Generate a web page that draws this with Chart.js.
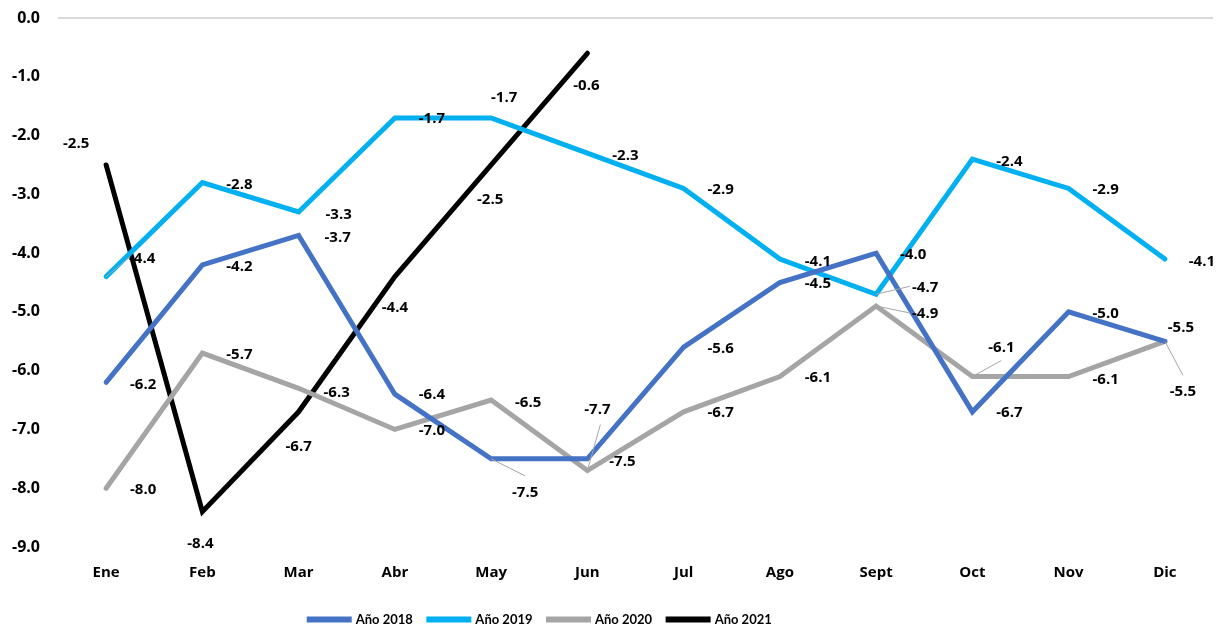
<!DOCTYPE html>
<html lang="es">
  <head>
    <meta charset="UTF-8" />
    <title>Variación mensual 2018-2021</title>
    <script src="https://cdn.jsdelivr.net/npm/chart.js"></script>
    <style>
      html, body { margin: 0; padding: 0; background: #fff; }
      #chartContainer { width: 1224px; height: 627px; position: relative; }
    </style>
  </head>
  <body>
    <div id="chartContainer">
      <canvas id="lineChart"></canvas>
    </div>

    <script>
      // Datos
      const months = ["Ene", "Feb", "Mar", "Abr", "May", "Jun", "Jul", "Ago", "Sept", "Oct", "Nov", "Dic"];
      const serie2018 = [-6.2, -4.2, -3.7, -6.4, -7.5, -7.5, -5.6, -4.5, -4.0, -6.7, -5.0, -5.5];
      const serie2019 = [-4.4, -2.8, -3.3, -1.7, -1.7, -2.3, -2.9, -4.1, -4.7, -2.4, -2.9, -4.1];
      const serie2020 = [-8.0, -5.7, -6.3, -7.0, -6.5, -7.7, -6.7, -6.1, -4.9, -6.1, -6.1, -5.5];
      const serie2021 = [-2.5, -8.4, -6.7, -4.4, -2.5, -0.6];
      const yTicks = [0, -1, -2, -3, -4, -5, -6, -7, -8, -9];

      // Posición de las etiquetas (px respecto al punto), con línea guía opcional
      const R = { dx: 37, dy: 2 };
      const labelPos = [
        [R, R, { dx: 39, dy: 2 }, { dx: 37, dy: 1 }, { dx: 34, dy: 34, lx: 34, ly: 17 }, { dx: 35, dy: 3 },
         R, { dx: 38, dy: 1 }, R, { dx: 37, dy: 1 }, R, { dx: 16, dy: -14 }],
        [{ dx: 36, dy: -18, lx: 24, ly: -20 }, R, { dx: 40, dy: 3 }, { dx: 37, dy: 1 }, { dx: 13, dy: -20 }, { dx: 38, dy: 3 },
         { dx: 37, dy: 1 }, { dx: 38, dy: 3 }, { dx: 49, dy: -7, lx: 34, ly: -8 }, { dx: 37, dy: 3 }, { dx: 37, dy: 1 }, { dx: 37, dy: 3 }],
        [R, R, { dx: 38, dy: 4 }, { dx: 37, dy: 1 }, { dx: 37, dy: 3 }, { dx: 10, dy: -61, lx: 13, ly: -46 },
         { dx: 37, dy: 1 }, { dx: 38, dy: 1 }, { dx: 49, dy: 8, lx: 34, ly: 7 }, { dx: 29, dy: -29, lx: 29, ly: -16 }, { dx: 37, dy: 3 }, { dx: 18, dy: 50, lx: 18, ly: 34 }],
        [{ dx: -30, dy: -21 }, { dx: -2, dy: 32 }, { dx: 0, dy: 35 }, { dx: 0, dy: 31 }, { dx: -1, dy: 35 }, { dx: -1, dy: 32 }]
      ];

      const fontFam = "'Open Sans', Lato, sans-serif";

      // Plugin sencillo para las etiquetas de datos
      const dataLabels = {
        id: "dataLabels",
        afterDatasetsDraw(chart) {
          const ctx = chart.ctx;
          ctx.save();
          chart.data.datasets.forEach((ds, i) => {
            const meta = chart.getDatasetMeta(i);
            meta.data.forEach((pt, j) => {
              const p = labelPos[i][j];
              if (!p) return;
              if (p.lx !== undefined) {
                ctx.strokeStyle = "#a6a6a6";
                ctx.lineWidth = 1;
                ctx.beginPath();
                ctx.moveTo(pt.x, pt.y);
                ctx.lineTo(pt.x + p.lx, pt.y + p.ly);
                ctx.stroke();
              }
              ctx.fillStyle = "#000";
              ctx.font = "bold 15px " + fontFam;
              ctx.textAlign = "center";
              ctx.textBaseline = "middle";
              ctx.fillText(ds.data[j].toFixed(1), pt.x + p.dx, pt.y + p.dy);
            });
          });
          ctx.restore();
        }
      };

      // La leyenda del original no está centrada: se desplaza a la izquierda
      const legendShift = {
        id: "legendShift",
        afterLayout(chart) {
          chart.legend.left -= 66;
          chart.legend.right -= 66;
        }
      };

      const colors = ["#4472C4", "#00B0F0", "#A5A5A5", "#000000"];
      const names = ["Año 2018", "Año 2019", "Año 2020", "Año 2021"];
      const series = [serie2018, serie2019, serie2020, serie2021];

      const ctx = document.getElementById("lineChart").getContext("2d");
      new Chart(ctx, {
        type: "line",
        data: {
          labels: months,
          datasets: series.map((s, i) => ({
            label: names[i],
            data: s,
            borderColor: colors[i],
            backgroundColor: colors[i],
            borderWidth: 5,
            pointRadius: 0,
            tension: 0,
            borderJoinStyle: "miter",
            borderCapStyle: "round"
          }))
        },
        options: {
          responsive: true,
          maintainAspectRatio: false,
          animation: false,
          layout: { padding: { top: 18, right: 11, left: 0, bottom: 0 } },
          scales: {
            x: {
              offset: true,
              afterFit(scale) { scale.height = 50; },
              grid: { display: false, drawTicks: false },
              border: { display: false },
              ticks: { padding: 17, color: "#000", font: { family: fontFam, size: 15, weight: "bold" } }
            },
            y: {
              min: -9,
              max: 0,
              afterFit(scale) {
                scale.width = 58;
                scale.paddingTop = 10;
                scale.paddingBottom = 10;
              },
              afterBuildTicks(scale) { scale.ticks = yTicks.map(v => ({ value: v })); },
              grid: {
                drawTicks: false,
                color: ctx => (ctx.tick && ctx.tick.value === 0 ? "#d9d9d9" : "rgba(0,0,0,0)"),
                lineWidth: 2
              },
              border: { display: false },
              ticks: {
                padding: 18,
                color: "#000",
                font: { family: fontFam, size: 16, weight: "bold" },
                callback: v => v.toFixed(1)
              }
            }
          },
          plugins: {
            legend: {
              position: "bottom",
              maxHeight: 30,
              labels: {
                boxWidth: 40,
                boxHeight: 1,
                padding: 16,
                color: "#000",
                font: { family: "Lato, sans-serif", size: 13, weight: "bold" }
              }
            },
            tooltip: { enabled: false }
          }
        },
        plugins: [dataLabels, legendShift]
      });
    </script>
  </body>
</html>
